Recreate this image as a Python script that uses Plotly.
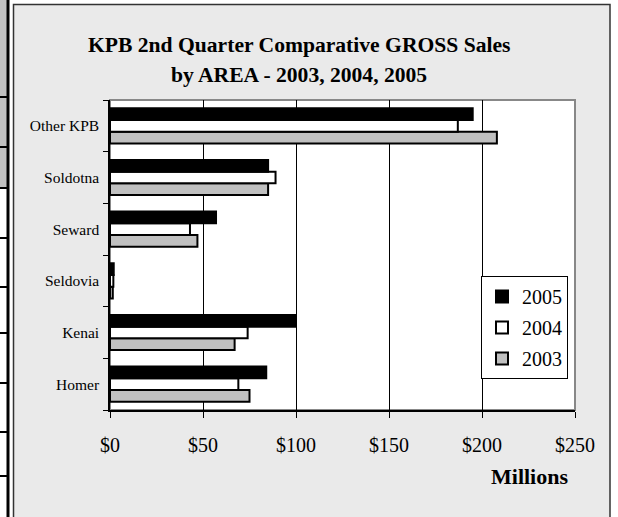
import plotly.graph_objects as go

W, H = 618, 517

categories = ["Homer", "Kenai", "Seldovia", "Seward", "Soldotna", "Other KPB"]
sales_2003 = [75, 67, 1.5, 47, 85, 208]
sales_2004 = [69, 74, 1.8, 43, 89, 187]
sales_2005 = [84, 100, 2.0, 57, 85, 195]
x_ticks = [0, 50, 100, 150, 200, 250]
x_tick_labels = ["$0", "$50", "$100", "$150", "$200", "$250"]

FONT = "Liberation Serif, Times New Roman, serif"

def px(x):
    return x / W

def py(y):
    return 1 - y / H

fig = go.Figure()
series = [("2003", sales_2003, "#c0c0c0", 3), ("2004", sales_2004, "#ffffff", 2), ("2005", sales_2005, "#000000", 1)]
for name, vals, col, rank in series:
    fig.add_trace(go.Bar(
        y=categories, x=vals, name=name, orientation="h", legendgroup=name, legendrank=rank,
        marker=dict(color=col, line=dict(color="black", width=2)),
    ))

x0, x1, y0, y1 = 110, 575, 100, 410

shapes = []
# outer chart frame
shapes.append(dict(type="rect", xref="paper", yref="paper", x0=px(13.5), x1=px(610), y0=py(4.5), y1=py(530),
                   fillcolor="#eaeaea", line=dict(color="#333333", width=1.5), layer="below"))
# left artifact: table cells
shapes.append(dict(type="rect", xref="paper", yref="paper", x0=px(-2), x1=px(7), y0=py(0), y1=py(188),
                   fillcolor="#c0c0c0", line=dict(width=0), layer="below"))
shapes.append(dict(type="line", xref="paper", yref="paper", x0=px(8), x1=px(8), y0=py(0), y1=py(517),
                   line=dict(color="black", width=3)))
for yy in [97, 147, 188, 238, 287, 333, 383, 432, 476]:
    shapes.append(dict(type="line", xref="paper", yref="paper", x0=px(0), x1=px(8), y0=py(yy), y1=py(yy),
                       line=dict(color="black", width=2)))
# plot area: white with grey border (top/right)
shapes.append(dict(type="rect", xref="paper", yref="paper", x0=px(x0), x1=px(x1), y0=py(y1), y1=py(y0),
                   fillcolor="white", line=dict(color="#888888", width=2), layer="below"))

fig.update_layout(
    width=W, height=H, autosize=False,
    margin=dict(l=0, r=0, t=0, b=0, pad=0, autoexpand=False),
    paper_bgcolor="white", plot_bgcolor="rgba(0,0,0,0)",
    barmode="group", bargap=0.32, bargroupgap=0,
    font=dict(family=FONT, color="black"),
    shapes=shapes,
    showlegend=True,
    legend=dict(
        x=px(481), y=py(276), xanchor="left", yanchor="top",
        bgcolor="white", bordercolor="black", borderwidth=1,
        font=dict(size=20, family=FONT), traceorder="grouped",
        itemwidth=30, tracegroupgap=2,
    ),
    xaxis=dict(
        domain=[px(x0), px(x1)], range=[0, 250], automargin=False,
        tickvals=x_ticks, ticktext=x_tick_labels,
        showgrid=True, gridcolor="black", gridwidth=1,
        showline=True, linecolor="black", linewidth=1.5,
        ticks="outside", ticklen=6, tickcolor="black", tickwidth=1,
        tickfont=dict(size=20, family=FONT), zeroline=False,
        ticklabelstandoff=10,
    ),
    yaxis=dict(
        domain=[py(y1), py(y0)], automargin=False,
        categoryorder="array", categoryarray=categories,
        showline=True, linecolor="black", linewidth=1.5,
        ticks="outside", ticklen=5, tickcolor="black", tickwidth=1,
        tickson="boundaries", showgrid=False,
        tickfont=dict(size=15.5, family=FONT),
        ticklabelstandoff=6,
    ),
    annotations=[
        dict(text="<b>KPB 2nd Quarter Comparative GROSS Sales</b>", x=px(299), y=py(45), xref="paper", yref="paper",
             xanchor="center", yanchor="middle", showarrow=False, font=dict(size=21.6, family=FONT)),
        dict(text="<b>by AREA - 2003, 2004, 2005</b>", x=px(299), y=py(75), xref="paper", yref="paper",
             xanchor="center", yanchor="middle", showarrow=False, font=dict(size=21.6, family=FONT)),
        dict(text="<b>Millions</b>", x=px(529), y=py(476), xref="paper", yref="paper",
             xanchor="center", yanchor="middle", showarrow=False, font=dict(size=22, family=FONT)),
    ],
)

post = ("document.documentElement.style.margin='0';document.documentElement.style.padding='0';"
        "document.documentElement.style.overflow='hidden';"
        "document.body.style.margin='0';document.body.style.padding='0';document.body.style.overflow='hidden';")
fig.write_html("out.html", post_script=post, config={"displayModeBar": False})
